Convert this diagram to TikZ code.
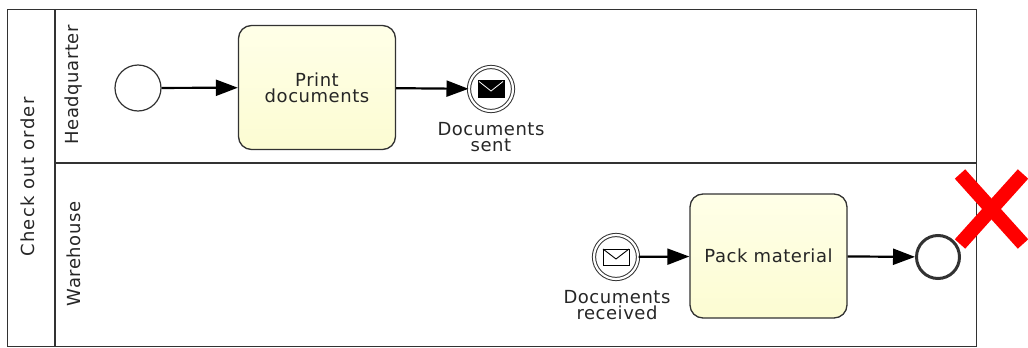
\documentclass[tikz,border=0pt]{standalone}
\usepackage{fontspec}
\setmainfont{DejaVu Sans}[LetterSpace=3]
\usetikzlibrary{arrows.meta}
\definecolor{taskfill}{RGB}{252,252,210}
\definecolor{taskfilltop}{RGB}{255,255,232}
\definecolor{poolline}{RGB}{50,50,50}
\begin{document}
\begin{tikzpicture}[x=1pt,y=-1pt,
  every node/.style={font=\fontsize{18}{16}\selectfont, text=black!85},
  task/.style={draw=poolline, line width=1.3pt, rounded corners=13pt, top color=taskfilltop, bottom color=taskfill, minimum width=157pt, minimum height=124pt, align=center},
  event/.style={draw=poolline, circle, minimum size=46pt, inner sep=0pt, line width=1.2pt},
  catch/.style={event, double distance=2.2pt, line width=1pt, minimum size=44pt},
  flow/.style={line width=2.2pt, -{Triangle[length=22pt,width=16pt]}},
  lbl/.style={align=center, inner sep=0pt, anchor=north}]
\useasboundingbox (0,0) rectangle (1028,348);

% pool and lanes
\draw[poolline, line width=1.8pt] (7.5,9.5) rectangle (976.5,346.5);
\draw[poolline, line width=1.5pt] (55,9.5) -- (55,346.5);
\draw[poolline, line width=2pt] (55,162.5) -- (976.5,162.5);
\node[rotate=90, font=\fontsize{18}{16}\addfontfeature{LetterSpace=7}] (pool) at (28,177) {Check out order};
\node[rotate=90] (hq) at (74,85) {Headquarter};
\node[rotate=90] (wh) at (74,254) {Warehouse};

% headquarter
\node[event] (start) at (138,88) {};
\node[task] (print) at (317,87.5) {Print\\documents};
\node[catch] (sent) at (491,89) {};
\draw[fill=black] ([shift={(-13,-8.5)}]sent.center) rectangle ([shift={(13,8.5)}]sent.center);
\draw[white, line width=0.8pt] ([shift={(-12,-7.5)}]sent.center) -- ([shift={(0,2)}]sent.center) -- ([shift={(12,-7.5)}]sent.center);
\node[lbl] (sentlbl) at (491,122) {Documents\\sent};
\draw[flow] (start) -- (print);
\draw[flow] (print) -- (sent);

% warehouse
\node[catch] (recv) at (616,257) {};
\draw[fill=white, line width=0.9pt] ([shift={(-13,-8)}]recv.center) rectangle ([shift={(13,8)}]recv.center);
\draw[line width=0.9pt] ([shift={(-13,-8)}]recv.center) -- ([shift={(0,2)}]recv.center) -- ([shift={(13,-8)}]recv.center);
\node[lbl] (recvlbl) at (617,290) {Documents\\received};
\node[task] (pack) at (768.5,256) {Pack material};
\node[event, line width=3pt, minimum size=43pt] (end) at (938,257) {};
\draw[flow] (recv) -- (pack);
\draw[flow] (pack) -- (end);

% red cross
\draw[red, line width=14pt] (960,174) -- (1023,244);
\draw[red, line width=14pt] (1023,174) -- (960,244);
\end{tikzpicture}
\end{document}
